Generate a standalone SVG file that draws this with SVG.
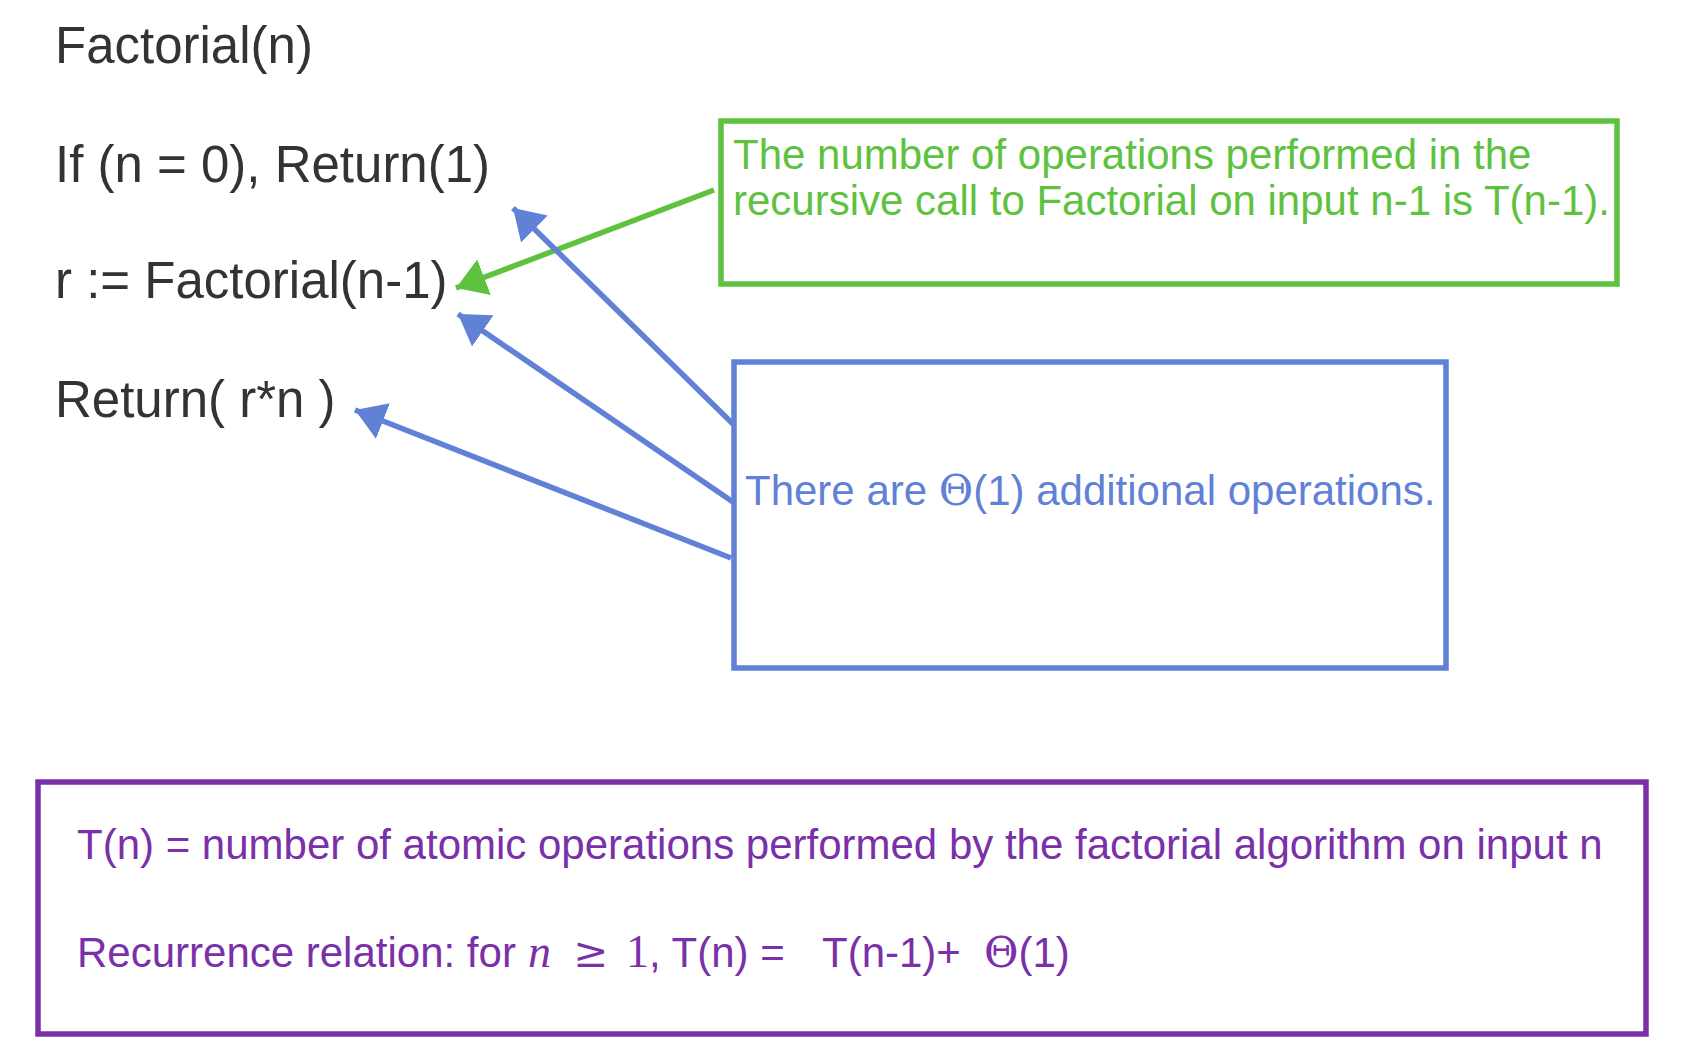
<svg xmlns="http://www.w3.org/2000/svg" width="1684" height="1058" viewBox="0 0 1684 1058">
<defs>
<style>
.code{font-family:"Liberation Sans",Arial,sans-serif;font-size:51px;fill:#333333}
.note{font-family:"Liberation Sans",Arial,sans-serif;font-size:42px}
.serif{font-family:"Liberation Serif","Times New Roman",serif}
.theta{font-family:"DejaVu Serif",serif}
.box{fill:none;stroke-width:5.5}
.green{fill:#5ec23f}
.blue{fill:#6181d6}
.purple{fill:#7a30a8}
.conn{fill:none;stroke-width:5.5}
</style>
<marker id="ahG" markerUnits="userSpaceOnUse" markerWidth="32" markerHeight="40" refX="30" refY="19" orient="auto" viewBox="0 0 32 38">
<path d="M0,0 L30,19 L0,38 Z" fill="#5ec23f"/>
</marker>
<marker id="ahB" markerUnits="userSpaceOnUse" markerWidth="32" markerHeight="40" refX="30" refY="19" orient="auto" viewBox="0 0 32 38">
<path d="M0,0 L30,19 L0,38 Z" fill="#6181d6"/>
</marker>
</defs>
<rect width="1684" height="1058" fill="#ffffff"/>
<g id="code">
<text class="code" x="55" y="63">Factorial(n)</text>
<text class="code" x="55" y="182">If (n = 0), Return(1)</text>
<text class="code" x="55" y="298">r := Factorial(n-1)</text>
<text class="code" x="55" y="417">Return( r*n )</text>
</g>
<g id="connectors">
<line class="conn" stroke="#5ec23f" x1="714" y1="190" x2="456" y2="288" marker-end="url(#ahG)"/>
<line class="conn" stroke="#6181d6" x1="733" y1="424" x2="513" y2="208" marker-end="url(#ahB)"/>
<line class="conn" stroke="#6181d6" x1="733" y1="502" x2="458" y2="314" marker-end="url(#ahB)"/>
<line class="conn" stroke="#6181d6" x1="731" y1="558" x2="355" y2="410" marker-end="url(#ahB)"/>
</g>
<g id="green-note">
<rect class="box" stroke="#5ec23f" x="721" y="121" width="896" height="163"/>
<text class="note green" x="733" y="169">The number of operations performed in the</text>
<text class="note green" x="733" y="215">recursive call to Factorial on input n-1 is T(n-1).</text>
</g>
<g id="blue-note">
<rect class="box" stroke="#6181d6" x="734" y="362" width="712" height="306"/>
<text class="note blue" x="745" y="505">There are <tspan class="theta">Θ</tspan>(1) additional operations.</text>
</g>
<g id="purple-note">
<rect class="box" stroke="#7a30a8" x="38" y="782" width="1608" height="252"/>
<text class="note purple" x="77" y="859">T(n) = number of atomic operations performed by the factorial algorithm on input n</text>
<text class="note purple" x="77" y="967">Recurrence relation: for</text>
<text class="purple serif" x="528" y="967" font-size="46" font-style="italic">n</text>
<text class="purple" x="573" y="967" font-size="42" font-family="'DejaVu Serif',serif">≥</text>
<text class="purple serif" x="626" y="967" font-size="46">1</text>
<text class="note purple" x="649" y="967">, T(n) =</text>
<text class="note purple" x="822" y="967">T(n-1)+</text>
<text class="note purple" x="984" y="967"><tspan class="theta">Θ</tspan>(1)</text>
</g>
</svg>
